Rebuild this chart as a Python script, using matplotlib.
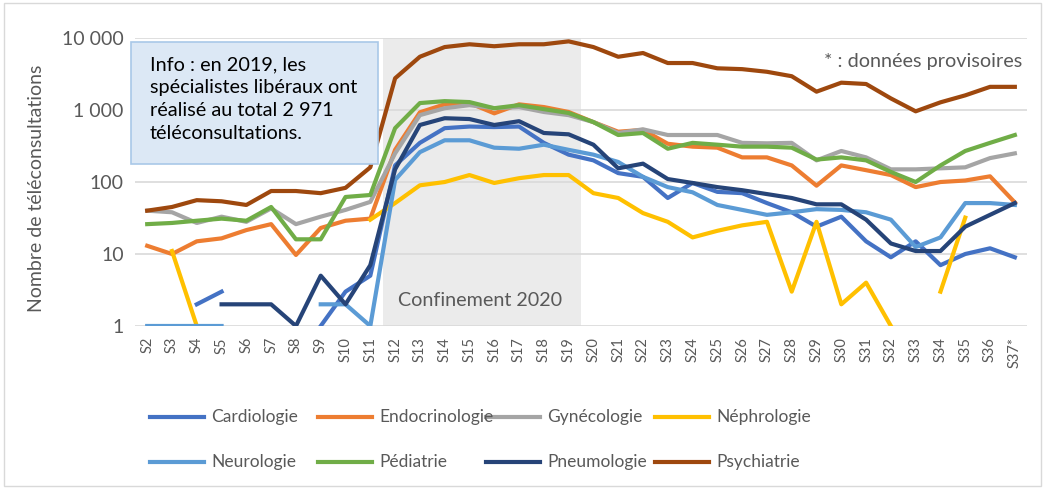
import numpy as np
import matplotlib
matplotlib.use('Agg')
import matplotlib.pyplot as plt
from matplotlib.patches import Rectangle
from matplotlib.lines import Line2D

plt.rcParams['font.family'] = ['Lato', 'DejaVu Sans']

nan = np.nan

# semaines S2 .. S37*
weeks = ['S%d' % i for i in range(2, 37)] + ['S37*']

cardiologie = [nan, nan, 2, 3, nan, nan, nan, 1, 3, 5, 170, 350, 560, 590, 580, 590, 350, 240,
               200, 133, 118, 60, 97, 73, 70, 51, 38, 24, 33, 15, 9, 15, 7, 10, 12, 9]
endocrinologie = [13, 10, 15, 16.5, 21.5, 26, 9.7, 23, 29, 31, 280, 930, 1200, 1250, 900, 1200, 1100, 940,
                  680, 500, 530, 340, 310, 300, 220, 220, 170, 89, 170, 146, 125, 85, 100, 105, 120, 52]
gynecologie = [40, 38, 27, 33, 28, 43, 26, 33, 41, 53, 250, 850, 1060, 1170, 1060, 1100, 940, 850,
               680, 480, 540, 450, 450, 450, 350, 345, 350, 200, 270, 220, 150, 150, 155, 160, 215, 250]
nephrologie = [nan, 11, 1, nan, nan, nan, nan, nan, nan, 30, 51, 90, 100, 125, 97, 113, 125, 125,
               70, 60, 37, 28, 17, 21, 25, 28, 3, 28, 2, 4, 1, nan, 3, 32, nan, nan]
neurologie = [1, 1, 1, 1, nan, nan, nan, 2, 2, 1, 107, 260, 380, 380, 300, 290, 330, 280,
              240, 190, 118, 85, 72, 48, 41, 35, 38, 42, 41, 38, 30, 12.5, 17, 51, 51, 48]
pediatrie = [26, 27, 29, 31, 29, 45, 16, 16, 62, 66, 560, 1250, 1330, 1290, 1060, 1170, 1030, 910,
             680, 450, 480, 290, 350, 330, 310, 310, 300, 205, 220, 200, 138, 100, 170, 270, 350, 450]
pneumologie = [nan, nan, nan, 2, 2, 2, 1, 5, 2, 7, 150, 620, 770, 750, 620, 700, 480, 460,
               330, 155, 180, 110, 97, 85, 77, 68, 60, 49, 49, 30, 14, 11, 11, 24, 35, 51]
psychiatrie = [40, 45, 56, 54, 48, 75, 75, 70, 83, 160, 2760, 5500, 7500, 8200, 7700, 8200, 8200, 9000,
               7500, 5500, 6200, 4500, 4500, 3800, 3700, 3400, 2950, 1800, 2400, 2300, 1450, 960, 1280, 1600, 2100, 2100]

series = [
    ('Cardiologie', cardiologie, '#4472C4'),
    ('Endocrinologie', endocrinologie, '#ED7D31'),
    ('Gynécologie', gynecologie, '#A5A5A5'),
    ('Néphrologie', nephrologie, '#FFC000'),
    ('Neurologie', neurologie, '#5B9BD5'),
    ('Pédiatrie', pediatrie, '#70AD47'),
    ('Pneumologie', pneumologie, '#264478'),
    ('Psychiatrie', psychiatrie, '#9E480E'),
]

grey_txt = '#595959'
W, H = 1045, 488

fig = plt.figure(figsize=(10.45, 4.88), dpi=100)
ax = fig.add_axes([0.129, 0.332, 0.854, 0.590])

x = np.arange(len(weeks))

# période de confinement
ax.axvspan(9.5, 17.5, color='#EBEBEB', zorder=0, lw=0)

for name, vals, col in series:
    ax.plot(x, vals, color=col, lw=3, label=name, solid_joinstyle='round', zorder=3)

ax.set_yscale('log')
ax.set_ylim(1, 10000)
ax.set_xlim(-0.5, len(weeks) - 0.5)
ax.set_yticks([1, 10, 100, 1000, 10000])
ax.set_yticklabels(['1', '10', '100', '1 000', '10 000'])
ax.yaxis.set_minor_locator(matplotlib.ticker.NullLocator())
ax.set_xticks(x)
ax.set_xticklabels(weeks, rotation=90)
ax.tick_params(axis='both', length=0, colors=grey_txt)
ax.tick_params(axis='y', labelsize=14, pad=8)
ax.tick_params(axis='x', labelsize=10.5, pad=8)
ax.grid(axis='y', color='#D9D9D9', lw=1.2, zorder=1)
for s in ax.spines.values():
    s.set_visible(False)

# légende : 2 lignes de 4, placée à la main
leg_x = [150, 318, 486, 655]
leg_y = [417, 462]
for i, (name, _, col) in enumerate(series):
    r, c = divmod(i, 4)
    x0 = leg_x[c]
    yy = 1 - leg_y[r] / H
    fig.add_artist(Line2D([x0 / W, (x0 + 54) / W], [yy, yy], color=col, lw=3,
                          transform=fig.transFigure))
    fig.text((x0 + 61) / W, yy, name, fontsize=12.5, color=grey_txt, ha='left', va='center')

# encadré info
fig.patches.append(Rectangle((131 / W, 1 - 164 / H), 247 / W, 122 / H,
                             transform=fig.transFigure, facecolor='#DCE8F5',
                             edgecolor='#A9C8E8', lw=1.2, zorder=5))
fig.text(150 / W, 1 - 56 / H,
         'Info : en 2019, les\nspécialistes libéraux ont\nréalisé au total 2 971\ntéléconsultations.',
         fontsize=14.3, color='black', va='top', ha='left', linespacing=1.42, zorder=6)

fig.text(398 / W, 1 - 300 / H, 'Confinement 2020', fontsize=14.2, color=grey_txt,
         ha='left', va='center')
fig.text(1022 / W, 1 - 61 / H, '* : données provisoires', fontsize=14.3, color=grey_txt,
         ha='right', va='center')
fig.text(37 / W, 1 - 188 / H, 'Nombre de téléconsultations', fontsize=14, color=grey_txt,
         rotation=90, ha='center', va='center')

# cadre extérieur
fig.patches.append(Rectangle((0.004, 0.004), 0.992, 0.99, transform=fig.transFigure,
                             fill=False, edgecolor='#D9D9D9', lw=1))

fig.savefig('out.png', dpi=100)
